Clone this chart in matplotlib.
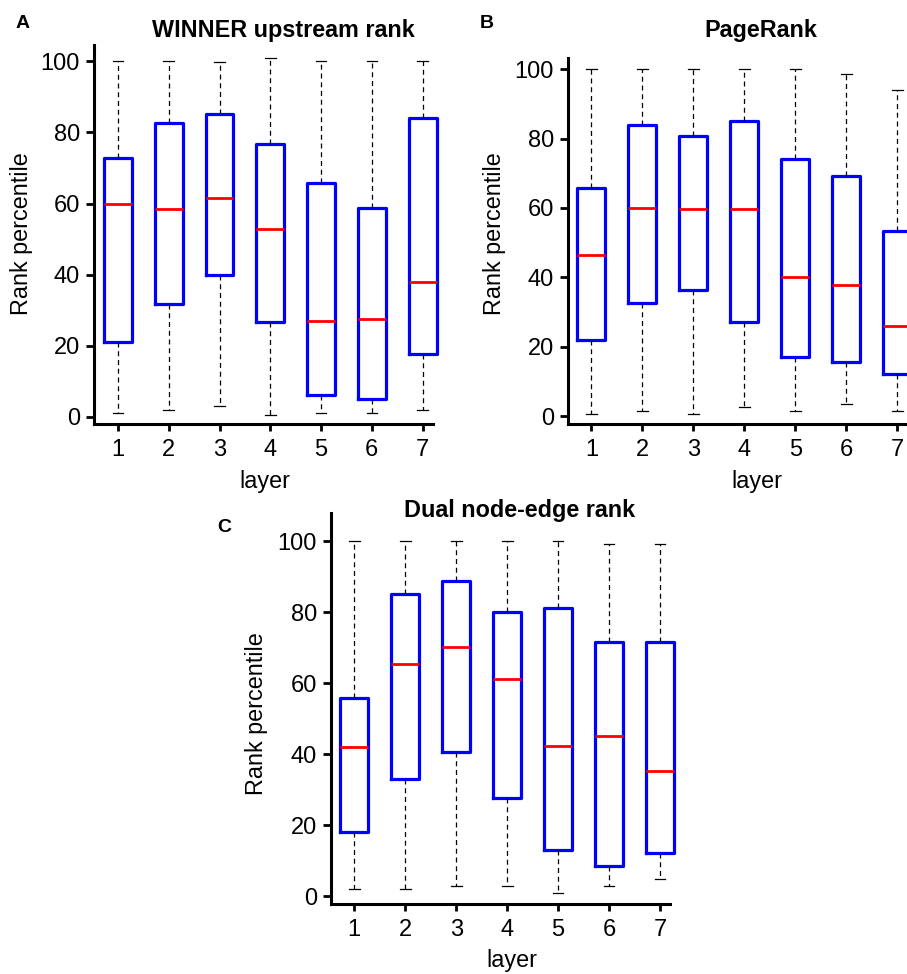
import matplotlib
matplotlib.use('Agg')
import matplotlib.pyplot as plt

plt.rcParams['font.family'] = ['Liberation Sans', 'DejaVu Sans']

W, H = 907, 974

layers = [1, 2, 3, 4, 5, 6, 7]

# WINNER upstream rank
a_low = [1.0, 1.9, 3.0, 0.7, 1.0, 1.0, 1.9]
a_q1 = [21.2, 31.8, 39.8, 26.8, 6.2, 5.0, 17.7]
a_med = [59.9, 58.6, 61.7, 53.0, 27.1, 27.6, 37.9]
a_q3 = [72.9, 82.8, 85.3, 76.8, 65.9, 58.7, 84.0]
a_high = [100, 100, 99.7, 101, 100, 100, 100]

# PageRank
b_low = [0.7, 1.6, 0.7, 2.6, 1.6, 3.6, 1.6]
b_q1 = [22.0, 32.5, 36.3, 27.2, 17.0, 15.5, 12.2]
b_med = [46.6, 60.0, 59.7, 59.7, 40.2, 37.8, 25.9]
b_q3 = [65.8, 83.8, 80.8, 85.1, 74.1, 69.3, 53.3]
b_high = [100, 100, 100, 100, 100, 98.7, 93.9]

# Dual node-edge rank
c_low = [2.0, 2.0, 3.0, 3.0, 0.9, 3.0, 5.0]
c_q1 = [18.0, 33.1, 40.6, 27.7, 13.0, 8.5, 12.3]
c_med = [42.1, 65.3, 70.3, 61.1, 42.3, 45.1, 35.3]
c_q3 = [55.7, 85.0, 88.8, 80.0, 81.2, 71.5, 71.7]
c_high = [100, 100, 100, 100, 100, 99.2, 99.2]

yticks = [0, 20, 40, 60, 80, 100]


def make_axes(fig, left, right, top, bottom, xlim, ylim):
    # pixel box -> figure fraction
    ax = fig.add_axes([left / W, 1 - bottom / H, (right - left) / W, (bottom - top) / H])
    ax.set_xlim(*xlim)
    ax.set_ylim(*ylim)
    return ax


def draw_panel(ax, low, q1, med, q3, high, xbound):
    stats = []
    for i in range(len(layers)):
        stats.append({'med': med[i], 'q1': q1[i], 'q3': q3[i],
                      'whislo': low[i], 'whishi': high[i], 'fliers': []})
    ax.bxp(stats, positions=layers, widths=0.55, showfliers=False,
           boxprops=dict(color='#0000ff', linewidth=2.3),
           medianprops=dict(color='#ff0000', linewidth=2.0, solid_capstyle='butt'),
           whiskerprops=dict(color='black', linewidth=0.9, linestyle=(0, (4, 3))),
           capprops=dict(color='black', linewidth=0.9),
           capwidths=0.21, manage_ticks=False)
    for art in ax.get_children():
        try:
            art.set_clip_on(False)
        except AttributeError:
            pass
    ax.spines['top'].set_visible(False)
    ax.spines['right'].set_visible(False)
    ax.spines['left'].set_linewidth(2.2)
    ax.spines['bottom'].set_linewidth(2.2)
    ax.spines['bottom'].set_bounds(ax.get_xlim()[0], xbound)
    ax.set_xticks(layers)
    ax.set_yticks(yticks)
    ax.tick_params(axis='both', width=2.0, labelsize=17, color='black')
    ax.tick_params(axis='y', length=6, pad=4)
    ax.tick_params(axis='x', length=5, pad=6)
    ax.patch.set_alpha(0)


fig = plt.figure(figsize=(W / 100, H / 100), dpi=100)

ax_a = make_axes(fig, 94, 448, 45, 424, (0.528, 7.5), (-1.97, 104.6))
draw_panel(ax_a, a_low, a_q1, a_med, a_q3, a_high, 7.2)

ax_b = make_axes(fig, 567.7, 923, 58, 423.7, (0.537, 7.5), (-2.13, 103.2))
draw_panel(ax_b, b_low, b_q1, b_med, b_q3, b_high, 7.5)

ax_c = make_axes(fig, 331, 685.5, 513.3, 904, (0.543, 7.5), (-2.17, 107.8))
draw_panel(ax_c, c_low, c_q1, c_med, c_q3, c_high, 7.2)


def ftext(x, y, s, **kw):
    fig.text(x / W, 1 - y / H, s, ha='center', va='center', **kw)


ftext(23, 23, 'A', fontsize=14, fontweight='bold')
ftext(487, 23, 'B', fontsize=14, fontweight='bold')
ftext(224, 527, 'C', fontsize=14, fontweight='bold')

ftext(283, 31, 'WINNER upstream rank', fontsize=16.8, fontweight='bold')
ftext(761, 31, 'PageRank', fontsize=16.8, fontweight='bold')
ftext(520, 510, 'Dual node-edge rank', fontsize=16.8, fontweight='bold')

ftext(22, 234, 'Rank percentile', fontsize=16.8, rotation=90)
ftext(494, 234, 'Rank percentile', fontsize=16.8, rotation=90)
ftext(257, 714, 'Rank percentile', fontsize=16.8, rotation=90)

ftext(265, 482, 'layer', fontsize=16.8)
ftext(757, 482, 'layer', fontsize=16.8)
ftext(512, 960, 'layer', fontsize=16.8)

fig.savefig('out.png', dpi=100)
